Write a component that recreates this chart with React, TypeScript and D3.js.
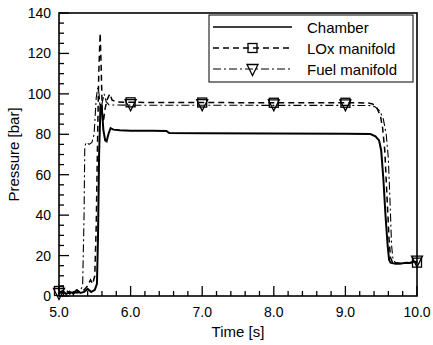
import React from "react";
import * as d3 from "d3";

// Pressure traces, time in s, pressure in bar
const chamberT = [5.0, 5.05, 5.1, 5.15, 5.2, 5.25, 5.3, 5.35, 5.4, 5.45, 5.5, 5.53, 5.545, 5.56, 5.58, 5.6, 5.62, 5.645, 5.665, 5.69, 5.72, 5.76, 5.85, 6.0, 6.3, 6.5, 6.54, 7.0, 8.0, 9.0, 9.35, 9.42, 9.47, 9.5, 9.53, 9.56, 9.59, 9.61, 9.63, 9.7, 9.8, 9.85, 9.9, 9.95, 10.0];
const chamberP = [1.5, 2.5, 1, 2, 1.5, 3, 1.5, 2, 3.5, 2, 3, 6, 30, 70, 95, 92, 82, 77, 76.5, 80, 83, 82.3, 82, 81.8, 81.7, 81.6, 80.6, 80.5, 80.4, 80.3, 80.1, 79, 77, 72, 58, 40, 25, 18, 16.5, 16, 16.2, 16.5, 16.3, 17, 17];

const loxT = [5.0, 5.05, 5.1, 5.15, 5.2, 5.25, 5.3, 5.35, 5.4, 5.44, 5.47, 5.5, 5.52, 5.54, 5.555, 5.575, 5.59, 5.605, 5.62, 5.64, 5.67, 5.71, 5.74, 5.8, 6.0, 7.0, 8.0, 9.0, 9.32, 9.38, 9.44, 9.49, 9.52, 9.55, 9.58, 9.61, 9.63, 9.66, 9.75, 9.9, 10.0];
const loxP = [2.5, 1.5, 3, 1, 2.5, 1.5, 2, 3, 5, 8, 6, 10, 35, 80, 110, 130, 112, 90, 86, 92, 97, 100, 97, 96, 95.8, 95.7, 95.6, 95.6, 95.5, 95, 93, 89, 83, 72, 50, 28, 19, 16.5, 16, 16.5, 16.5];

const fuelT = [5.0, 5.05, 5.1, 5.15, 5.2, 5.25, 5.3, 5.33, 5.35, 5.36, 5.38, 5.42, 5.46, 5.49, 5.52, 5.54, 5.56, 5.58, 5.6, 5.63, 5.66, 5.7, 6.0, 7.0, 8.0, 9.0, 9.35, 9.42, 9.48, 9.53, 9.57, 9.6, 9.625, 9.645, 9.665, 9.7, 9.8, 9.95, 10.0];
const fuelP = [1, 2, 1, 2.5, 1, 2, 3, 5, 40, 74, 76, 75, 76, 80, 98, 103, 100, 90, 95, 100, 96, 94.5, 94.4, 94.4, 94.3, 94.3, 94.2, 93.5, 91.5, 87.5, 80, 68, 45, 25, 18, 16.5, 16, 16.8, 17];

// Symbol positions along the manifold traces
const markerTimes = [5.0, 6.0, 7.0, 8.0, 9.0, 10.0];

const xMajorTicks = [5, 6, 7, 8, 9, 10];
const yMajorTicks = [0, 20, 40, 60, 80, 100, 120, 140];

const seriesNames = ["Chamber", "LOx manifold", "Fuel manifold"];

const W = 433;
const H = 345;
const left = 59;
const right = 417;
const top = 13;
const bottom = 296;
const FONT = "'Liberation Sans', Arial, Helvetica, sans-serif";

const x = d3.scaleLinear().domain([5, 10]).range([left, right]);
const y = d3.scaleLinear().domain([0, 140]).range([bottom, top]);

const toPts = (t: number[], p: number[]) => t.map((tt, i) => [tt, p[i]] as [number, number]);
const line = d3
  .line<[number, number]>()
  .x((d) => x(d[0]))
  .y((d) => y(d[1]));

const interp = (t: number[], p: number[], at: number) => {
  const i = d3.bisectLeft(t, at);
  if (i <= 0) return p[0];
  if (i >= t.length) return p[p.length - 1];
  const t0 = t[i - 1], t1 = t[i];
  const f = (at - t0) / (t1 - t0);
  return p[i - 1] + f * (p[i] - p[i - 1]);
};

const xMinor = d3.range(5, 10.0001, 0.2).filter((v) => Math.abs(v - Math.round(v)) > 1e-6);
const yMinor = d3.range(0, 140.0001, 5).filter((v) => v % 20 !== 0);

const LOX_DASH = "6,4";
const FUEL_DASH = "8,3,2,3";

function Square({ cx, cy }: { cx: number; cy: number }) {
  const s = 9;
  return <rect x={cx - s / 2} y={cy - s / 2} width={s} height={s} fill="none" stroke="#000" strokeWidth={1.3} />;
}

function Tri({ cx, cy }: { cx: number; cy: number }) {
  const w = 11;
  const h = 11;
  const path = `M${cx - w / 2},${cy - h / 2}L${cx + w / 2},${cy - h / 2}L${cx},${cy + h / 2}Z`;
  return <path d={path} fill="none" stroke="#000" strokeWidth={1.3} />;
}

export default function App() {
  const chamber = toPts(chamberT, chamberP);
  const lox = toPts(loxT, loxP);
  const fuel = toPts(fuelT, fuelP);

  const legX0 = 213;
  const legX1 = 292;
  const legMid = (legX0 + legX1) / 2;
  const legRows = [27, 48, 69];

  return (
    <svg width={W} height={H} style={{ position: "absolute", left: 0, top: 0, background: "#fff" }} fontFamily={FONT}>
      <rect x={0} y={0} width={W} height={H} fill="#fff" />

      {/* traces */}
      <path d={line(fuel) ?? ""} fill="none" stroke="#000" strokeWidth={1.1} strokeDasharray={FUEL_DASH} />
      <path d={line(lox) ?? ""} fill="none" stroke="#000" strokeWidth={1.5} strokeDasharray={LOX_DASH} />
      <path d={line(chamber) ?? ""} fill="none" stroke="#000" strokeWidth={2} />

      {markerTimes.map((t) => (
        <Square key={"s" + t} cx={x(t)} cy={y(interp(loxT, loxP, t))} />
      ))}
      {markerTimes.map((t) => (
        <Tri key={"t" + t} cx={x(t)} cy={y(interp(fuelT, fuelP, t))} />
      ))}

      {/* frame */}
      <rect x={left} y={top} width={right - left} height={bottom - top} fill="none" stroke="#000" strokeWidth={1.6} />

      {/* x ticks */}
      {xMajorTicks.map((v) => (
        <g key={"xm" + v}>
          <line x1={x(v)} x2={x(v)} y1={bottom} y2={bottom - 10} stroke="#000" strokeWidth={1.3} />
          <text x={x(v)} y={317} textAnchor="middle" fontSize={14}>
            {v.toFixed(1)}
          </text>
        </g>
      ))}
      {xMinor.map((v) => (
        <line key={"xn" + v} x1={x(v)} x2={x(v)} y1={bottom} y2={bottom - 5} stroke="#000" strokeWidth={1.3} />
      ))}

      {/* y ticks */}
      {yMajorTicks.map((v) => (
        <g key={"ym" + v}>
          <line x1={left} x2={left + 10} y1={y(v)} y2={y(v)} stroke="#000" strokeWidth={1.3} />
          <text x={51} y={y(v) + 5} textAnchor="end" fontSize={14}>
            {v}
          </text>
        </g>
      ))}
      {yMinor.map((v) => (
        <line key={"yn" + v} x1={left} x2={left + 5} y1={y(v)} y2={y(v)} stroke="#000" strokeWidth={1.3} />
      ))}

      {/* axis titles */}
      <text x={(left + right) / 2} y={337} textAnchor="middle" fontSize={15}>
        Time [s]
      </text>
      <text transform={`translate(19,${(top + bottom) / 2}) rotate(-90)`} textAnchor="middle" fontSize={15}>
        Pressure [bar]
      </text>

      {/* legend */}
      <rect x={209} y={15} width={204} height={67} fill="#fff" stroke="#000" strokeWidth={1} />
      <line x1={legX0} x2={legX1} y1={legRows[0]} y2={legRows[0]} stroke="#000" strokeWidth={1.5} />
      <line x1={legX0} x2={legX1} y1={legRows[1]} y2={legRows[1]} stroke="#000" strokeWidth={1.3} strokeDasharray={LOX_DASH} />
      <Square cx={legMid} cy={legRows[1]} />
      <line x1={legX0} x2={legX1} y1={legRows[2]} y2={legRows[2]} stroke="#000" strokeWidth={1.1} strokeDasharray={FUEL_DASH} />
      <Tri cx={legMid} cy={legRows[2] + 1} />
      {seriesNames.map((n, i) => (
        <text key={n} x={307} y={legRows[i] + 5.5} fontSize={15}>
          {n}
        </text>
      ))}
    </svg>
  );
}
